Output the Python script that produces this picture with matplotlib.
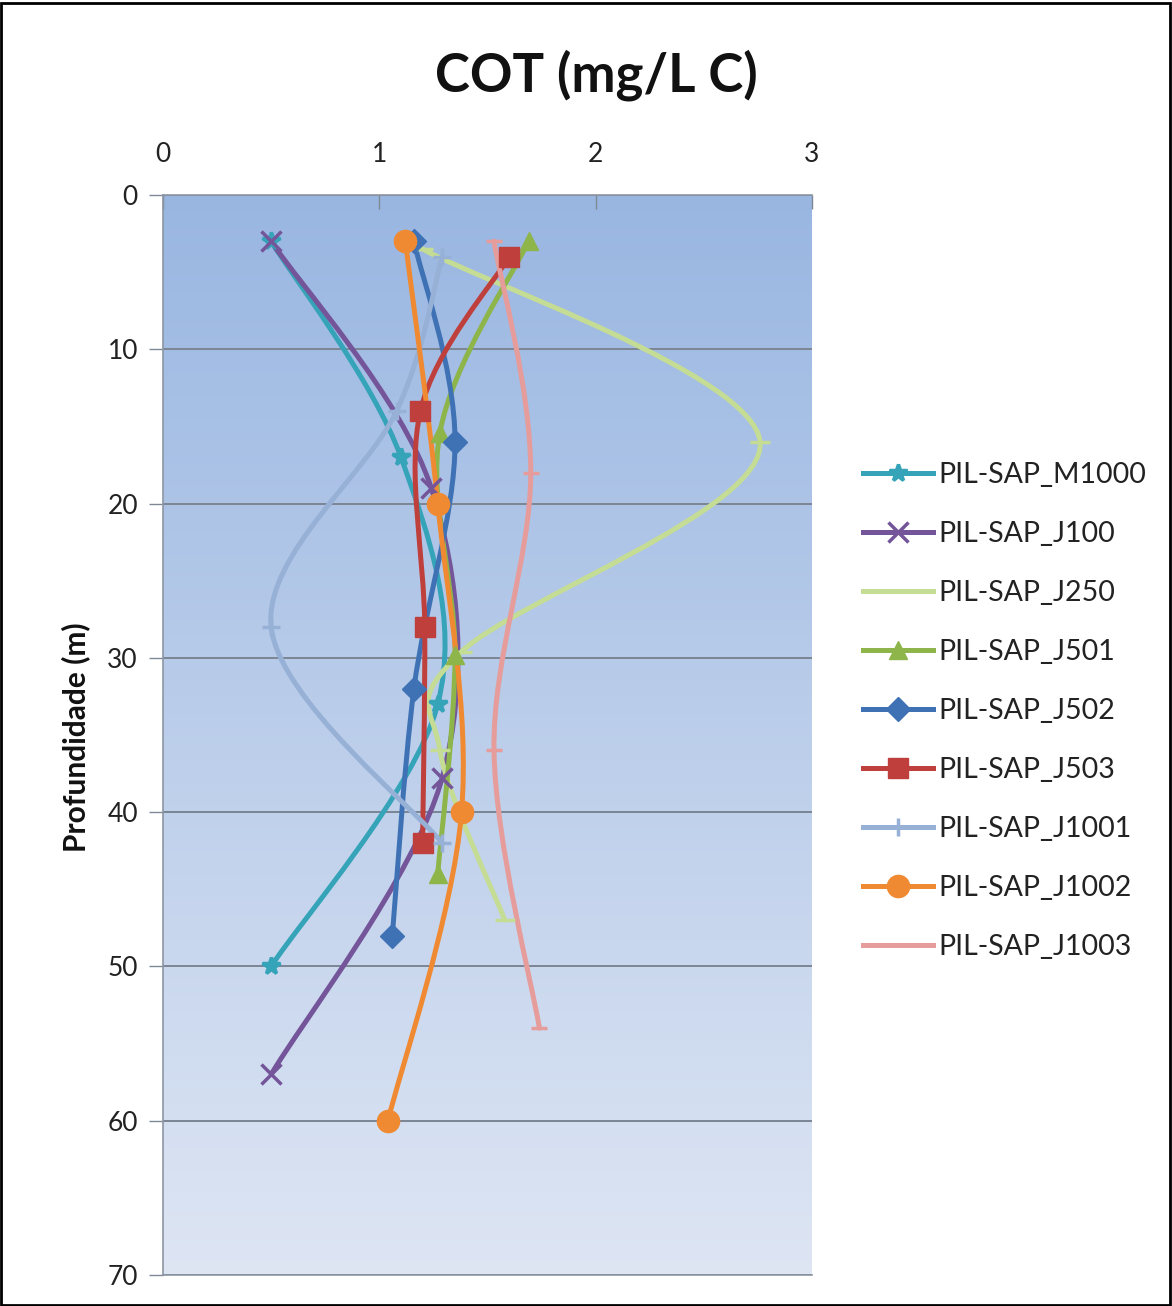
import numpy as np
import matplotlib
matplotlib.use("Agg")
import matplotlib.pyplot as plt
from matplotlib.path import Path
from matplotlib.patches import PathPatch, Rectangle
from matplotlib.lines import Line2D

plt.rcParams['font.family'] = ['Lato', 'DejaVu Sans']

# COT (mg/L C) versus depth (m)
series_names = ["PIL-SAP_M1000", "PIL-SAP_J100", "PIL-SAP_J250", "PIL-SAP_J501",
                "PIL-SAP_J502", "PIL-SAP_J503", "PIL-SAP_J1001", "PIL-SAP_J1002",
                "PIL-SAP_J1003"]

m1000_cot = [0.5, 1.1, 1.27, 0.5]
m1000_depth = [3, 17, 33, 50]
j100_cot = [0.5, 1.24, 1.29, 0.5]
j100_depth = [3, 19, 37.8, 57]
j250_cot = [1.2, 2.76, 1.38, 1.28, 1.58]
j250_depth = [3.5, 16, 29.6, 36, 47]
j501_cot = [1.69, 1.28, 1.35, 1.27]
j501_depth = [3, 15.4, 29.8, 44]
j502_cot = [1.16, 1.35, 1.16, 1.06]
j502_depth = [3, 16, 32, 48]
j503_cot = [1.6, 1.19, 1.21, 1.2]
j503_depth = [4, 14, 28, 42]
j1001_cot = [1.29, 1.08, 0.5, 1.29]
j1001_depth = [4, 14, 28, 42]
j1002_cot = [1.12, 1.27, 1.38, 1.04]
j1002_depth = [3, 20, 40, 60]
j1003_cot = [1.53, 1.7, 1.53, 1.74]
j1003_depth = [3, 18, 36, 54]

cot_values = [m1000_cot, j100_cot, j250_cot, j501_cot, j502_cot, j503_cot,
              j1001_cot, j1002_cot, j1003_cot]
depth_values = [m1000_depth, j100_depth, j250_depth, j501_depth, j502_depth,
                j503_depth, j1001_depth, j1002_depth, j1003_depth]

colors = ["#35a3b8", "#74559a", "#c4dc94", "#8db54a", "#3f72b4", "#be3f3b",
          "#97b0d6", "#f08a32", "#e69c9a"]
markers = ["*", "x", "_", "^", "D", "s", "+", "o", "_"]
msizes = [13, 14, 14, 13, 12, 15, 13, 16, 12]


def smooth_path(x, y):
    # Excel-style smoothed line through the points (Catmull-Rom as Bezier)
    pts = np.column_stack([x, y]).astype(float)
    n = len(pts)
    verts = [pts[0]]
    codes = [Path.MOVETO]
    for i in range(n - 1):
        p0 = pts[max(i - 1, 0)]
        p1 = pts[i]
        p2 = pts[i + 1]
        p3 = pts[min(i + 2, n - 1)]
        verts += [p1 + (p2 - p0) / 6.0, p2 - (p3 - p1) / 6.0, p2]
        codes += [Path.CURVE4] * 3
    return Path(verts, codes)


W, H = 1172, 1306
fig = plt.figure(figsize=(W / 100, H / 100), dpi=100)
fig.patch.set_facecolor("white")
ax = fig.add_axes([163 / W, 1 - 1275 / H, (812 - 163) / W, (1275 - 195) / H])

# gradient background
grad = np.linspace(0, 1, 256).reshape(-1, 1)
top = np.array([0.60, 0.715, 0.885])
bot = np.array([0.87, 0.90, 0.955])
img = top + (bot - top) * grad[..., None]
ax.imshow(img, extent=[0, 3, 70, 0], aspect="auto", zorder=0,
          interpolation="bilinear")

ax.set_xlim(0, 3)
ax.set_ylim(70, 0)
ax.set_xticks([0, 1, 2, 3])
ax.set_yticks(np.arange(0, 71, 10))
ax.xaxis.tick_top()
ax.tick_params(axis="x", direction="in", length=10, width=1, color="#7f8995",
               labelsize=19, pad=20, labelcolor="#222222")
ax.tick_params(axis="y", direction="out", length=10, width=1, color="#7f8995",
               labelsize=19, pad=8, labelcolor="#222222")
ax.grid(axis="y", color="#7b8593", linewidth=1.4, zorder=1)
ax.set_axisbelow(True)
for side in ["left", "top", "bottom"]:
    ax.spines[side].set_color("#8c96a3")
    ax.spines[side].set_linewidth(1.2)
ax.spines["right"].set_visible(False)

handles = []
for name, xs, ys, c, m, ms in zip(series_names, cot_values, depth_values,
                                  colors, markers, msizes):
    patch = PathPatch(smooth_path(xs, ys), facecolor="none", edgecolor=c,
                      linewidth=3.6, zorder=3, capstyle="round",
                      joinstyle="round")
    ax.add_patch(patch)
    mew = 2.5 if m in ["x", "+", "*", "_"] else 1
    ax.plot(xs, ys, linestyle="none", marker=m, markersize=ms, color=c,
            markeredgecolor=c, markeredgewidth=mew, zorder=4)
    handles.append(Line2D([0], [0], color=c, linewidth=3.6, marker=m,
                          markersize=ms, markeredgewidth=mew, label=name))

fig.legend(handles=handles, loc="center left",
           bbox_to_anchor=(863 / W, 1 - 711 / H), frameon=False,
           fontsize=20.5, handlelength=2.45, handletextpad=0.18,
           labelspacing=1.16, borderpad=0, borderaxespad=0,
           labelcolor="#222222")

fig.text(596 / W, 1 - 75 / H, "COT (mg/L C)", ha="center", va="center",
         fontsize=38, fontweight="bold", color="#111111")
fig.text(76 / W, 1 - 737 / H, "Profundidade (m)", ha="center", va="center",
         rotation=90, fontsize=21.5, fontweight="bold", color="#111111")

fig.add_artist(Rectangle((0.001, 0.001), 0.997, 0.997, transform=fig.transFigure,
                         fill=False, edgecolor="black", linewidth=2))

fig.savefig("out.png", dpi=100)
